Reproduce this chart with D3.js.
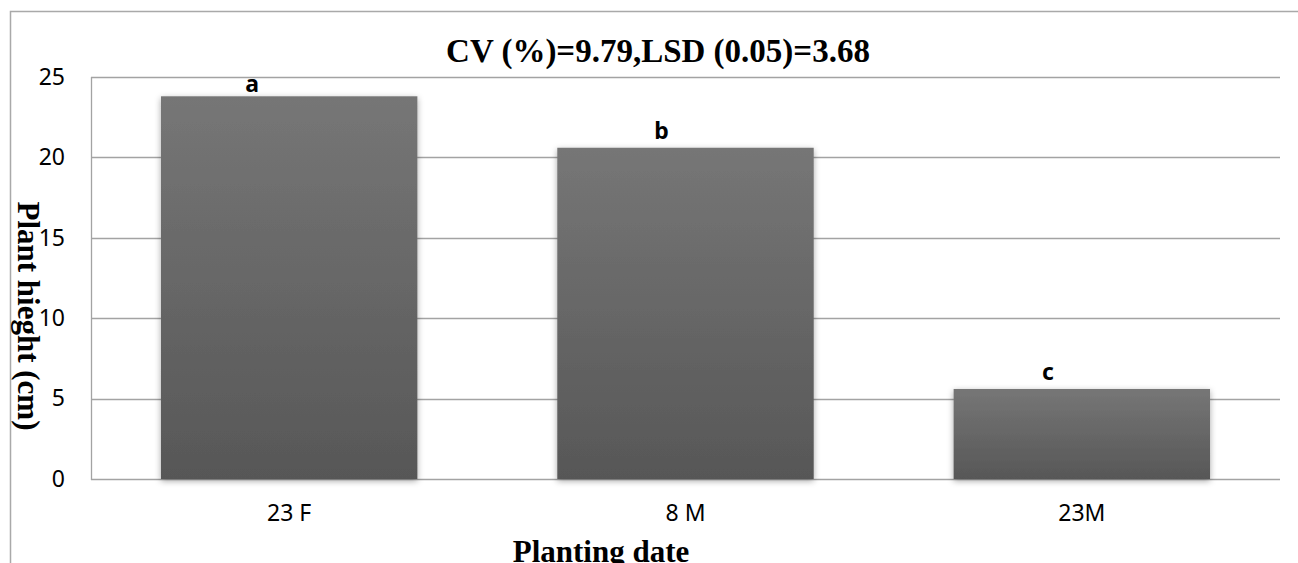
<!DOCTYPE html>
<html>
<head>
<meta charset="utf-8">
<script src="https://cdn.jsdelivr.net/npm/d3@7"></script>
<style>
    body { margin: 0; background: #fff; overflow: hidden; }
</style>
</head>
<body>
<div id="canvas"></div>
<script>
// chart data
const categories = ["23 F", "8 M", "23M"];
const heights = [23.8, 20.6, 5.6];
const letters = ["a", "b", "c"];
const yTicks = [0, 5, 10, 15, 20, 25];
const titleText = "CV (%)=9.79,LSD (0.05)=3.68";

// letters in the original are not centred on the bars
const letterShift = [[-37, 4], [-24, -1], [-34, -1]];

let width = 1298;
let height = 563;
let margin = {top: 77, right: 18, bottom: 84, left: 91};

let svg = d3.select("#canvas")
    .append("svg")
    .attr("width", width)
    .attr("height", height);

let defs = svg.append("defs");
let grad = defs.append("linearGradient")
    .attr("id", "barGrad")
    .attr("x1", 0).attr("y1", 0)
    .attr("x2", 0).attr("y2", 1);
grad.append("stop").attr("offset", "0%").attr("stop-color", "#767676");
grad.append("stop").attr("offset", "100%").attr("stop-color", "#575757");

let shadow = defs.append("filter")
    .attr("id", "barShadow")
    .attr("x", "-10%").attr("y", "-10%")
    .attr("width", "120%").attr("height", "125%");
shadow.append("feDropShadow")
    .attr("dx", 0).attr("dy", 2)
    .attr("stdDeviation", 3)
    .attr("flood-color", "#000")
    .attr("flood-opacity", 0.35);

// outer chart border: only top and left edges fall inside the window
svg.append("path")
    .attr("d", "M10.5," + height + "V11.5H" + width)
    .attr("fill", "none")
    .attr("stroke", "#a9a9a9")
    .attr("stroke-width", 1.5);

let x = d3.scaleBand()
    .domain(categories)
    .range([margin.left, width - margin.right])
    .paddingInner(0.353)
    .paddingOuter(0.1765);

let y = d3.scaleLinear()
    .domain([0, 25])
    .range([height - margin.bottom, margin.top]);

// gridlines
svg.append("g")
    .selectAll("line")
    .data(yTicks)
    .enter()
    .append("line")
    .attr("x1", margin.left)
    .attr("x2", width - margin.right)
    .attr("y1", d => Math.round(y(d)) + 0.5)
    .attr("y2", d => Math.round(y(d)) + 0.5)
    .attr("stroke", "#a3a3a3")
    .attr("stroke-width", 1.3);

// left axis line
svg.append("line")
    .attr("x1", margin.left + 0.5).attr("x2", margin.left + 0.5)
    .attr("y1", y(25)).attr("y2", y(0) + 1)
    .attr("stroke", "#a3a3a3")
    .attr("stroke-width", 1.3);

// y tick labels
let yAxis = svg.append("g")
    .attr("transform", "translate(" + margin.left + ",0)")
    .call(d3.axisLeft(y).tickValues(yTicks).tickSize(0).tickPadding(26));
yAxis.select(".domain").remove();
yAxis.selectAll("text")
    .attr("font-family", "Noto Sans, sans-serif")
    .attr("font-size", 23)
    .attr("fill", "#000");

// x tick labels
let xAxis = svg.append("g")
    .attr("transform", "translate(0," + y(0) + ")")
    .call(d3.axisBottom(x).tickSize(0).tickPadding(26));
xAxis.select(".domain").remove();
xAxis.selectAll("text")
    .attr("font-family", "Noto Sans, sans-serif")
    .attr("font-size", 23)
    .attr("fill", "#000");

// bars
svg.append("g")
    .selectAll("rect")
    .data(heights)
    .enter()
    .append("rect")
    .attr("x", (d, i) => x(categories[i]))
    .attr("y", d => y(d))
    .attr("width", x.bandwidth())
    .attr("height", d => y(0) - y(d))
    .attr("fill", "url(#barGrad)")
    .attr("filter", "url(#barShadow)");

// significance letters
svg.append("g")
    .selectAll("text")
    .data(letters)
    .enter()
    .append("text")
    .attr("x", (d, i) => x(categories[i]) + x.bandwidth() / 2 + letterShift[i][0])
    .attr("y", (d, i) => y(heights[i]) - 8 + letterShift[i][1])
    .attr("text-anchor", "middle")
    .attr("font-family", "Noto Sans, sans-serif")
    .attr("font-weight", "bold")
    .attr("font-size", 23)
    .text(d => d);

// title
svg.append("text")
    .attr("x", 658)
    .attr("y", 62)
    .attr("text-anchor", "middle")
    .attr("font-family", "Liberation Serif, Times New Roman, serif")
    .attr("font-weight", "bold")
    .attr("font-size", 33)
    .text(titleText);

// y axis title
svg.append("text")
    .attr("transform", "translate(18,316) rotate(90)")
    .attr("text-anchor", "middle")
    .attr("font-family", "Liberation Serif, Times New Roman, serif")
    .attr("font-weight", "bold")
    .attr("font-size", 31)
    .text("Plant hieght (cm)");

// x axis title
svg.append("text")
    .attr("x", 601)
    .attr("y", 562)
    .attr("text-anchor", "middle")
    .attr("font-family", "Liberation Serif, Times New Roman, serif")
    .attr("font-weight", "bold")
    .attr("font-size", 31)
    .text("Planting date");
</script>
</body>
</html>
